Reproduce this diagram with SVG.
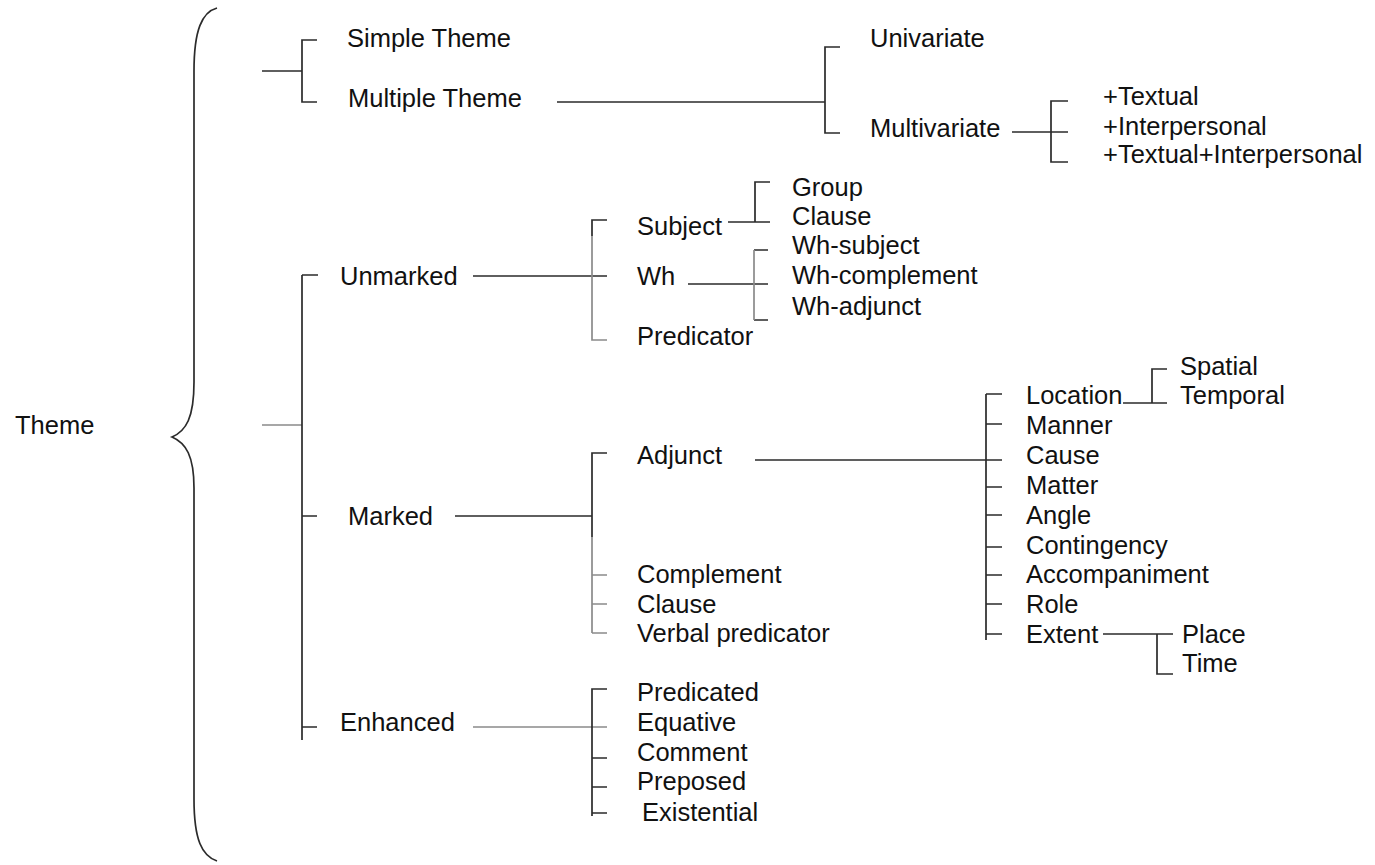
<svg xmlns="http://www.w3.org/2000/svg" width="1375" height="865" viewBox="0 0 1375 865">
<style>
text{font-family:"Liberation Sans",Arial,sans-serif;font-size:25.5px;fill:#111}
.c{fill:none;stroke:#2b2b2b;stroke-width:1.7}
.g{fill:none;stroke:#8a8a8a;stroke-width:1.7}
</style>
<rect width="1375" height="865" fill="#fff"/>
<g id="connectors">
<path class="c" d="M217 8 C202 12 194 30 194 71 L194 382 C194 418 186 431 172 437 C186 443 194 456 194 488 L194 799 C194 840 202 856 217 861"/>
<path class="g" d="M262 425 H302"/>
<path class="c" d="M302 275 H318 M302 275 V740 M302 516 H317 M302 727 H317"/>
<path class="c" d="M262 71 H302 M317 40 H302 V102 H317"/>
<path class="c" d="M557 102 H825 M840 47 H825 V133 H840"/>
<path class="c" d="M1012 132 H1068 M1068 101 H1051 V162 H1068"/>
<path class="c" d="M473 276 H607 M607 220 H592 V236"/>
<path class="g" d="M592 236 V340 H607"/>
<path class="c" d="M728 222 H770 M770 182 H755 V222"/>
<path class="c" d="M688 284 H768 M768 250 H754 M754 320 H768"/>
<path class="g" d="M754 250 V320"/>
<path class="c" d="M455 516 H592 M607 453 H592 V537"/>
<path class="g" d="M592 537 V633 M592 575 H607 M592 604 H607 M592 633 H607"/>
<path class="c" d="M755 460 H1002 M986 394 V640 M986 394 H1002 M986 424 H1002 M986 487 H1002 M986 515 H1002 M986 547 H1002 M986 575 H1002 M986 604 H1002 M986 634 H1002"/>
<path class="c" d="M1123 403 H1167 M1167 369 H1152 V403"/>
<path class="c" d="M1103 634 H1173 M1157 634 V674 H1173"/>
<path class="g" d="M473 727 H607"/>
<path class="c" d="M607 689 H592 V816 M592 758 H607 M592 787 H607 M592 813 H607"/>
</g>
<g id="n-theme"><text x="15" y="434">Theme</text></g>
<g id="n-simple"><text x="347" y="47">Simple Theme</text></g>
<g id="n-multiple"><text x="348" y="107">Multiple Theme</text></g>
<g id="n-univariate"><text x="870" y="47">Univariate</text></g>
<g id="n-multivariate"><text x="870" y="137">Multivariate</text></g>
<g id="n-textual"><text x="1103" y="105">+Textual</text></g>
<g id="n-interpersonal"><text x="1103" y="135">+Interpersonal</text></g>
<g id="n-textual-interpersonal"><text x="1103" y="163">+Textual+Interpersonal</text></g>
<g id="n-unmarked"><text x="340" y="285">Unmarked</text></g>
<g id="n-subject"><text x="637" y="235">Subject</text></g>
<g id="n-wh"><text x="637" y="285">Wh</text></g>
<g id="n-predicator"><text x="637" y="345">Predicator</text></g>
<g id="n-group"><text x="792" y="196">Group</text></g>
<g id="n-clause1"><text x="792" y="225">Clause</text></g>
<g id="n-wh-subject"><text x="792" y="254">Wh-subject</text></g>
<g id="n-wh-complement"><text x="792" y="284">Wh-complement</text></g>
<g id="n-wh-adjunct"><text x="792" y="315">Wh-adjunct</text></g>
<g id="n-marked"><text x="348" y="525">Marked</text></g>
<g id="n-adjunct"><text x="637" y="464">Adjunct</text></g>
<g id="n-complement"><text x="637" y="583">Complement</text></g>
<g id="n-clause2"><text x="637" y="613">Clause</text></g>
<g id="n-verbal-predicator"><text x="637" y="642">Verbal predicator</text></g>
<g id="n-location"><text x="1026" y="404">Location</text></g>
<g id="n-spatial"><text x="1180" y="375">Spatial</text></g>
<g id="n-temporal"><text x="1180" y="404">Temporal</text></g>
<g id="n-manner"><text x="1026" y="434">Manner</text></g>
<g id="n-cause"><text x="1026" y="464">Cause</text></g>
<g id="n-matter"><text x="1026" y="494">Matter</text></g>
<g id="n-angle"><text x="1026" y="524">Angle</text></g>
<g id="n-contingency"><text x="1026" y="554">Contingency</text></g>
<g id="n-accompaniment"><text x="1026" y="583">Accompaniment</text></g>
<g id="n-role"><text x="1026" y="613">Role</text></g>
<g id="n-extent"><text x="1026" y="643">Extent</text></g>
<g id="n-place"><text x="1182" y="643">Place</text></g>
<g id="n-time"><text x="1182" y="672">Time</text></g>
<g id="n-enhanced"><text x="340" y="731">Enhanced</text></g>
<g id="n-predicated"><text x="637" y="701">Predicated</text></g>
<g id="n-equative"><text x="637" y="731">Equative</text></g>
<g id="n-comment"><text x="637" y="761">Comment</text></g>
<g id="n-preposed"><text x="637" y="790">Preposed</text></g>
<g id="n-existential"><text x="642" y="821">Existential</text></g>
</svg>
